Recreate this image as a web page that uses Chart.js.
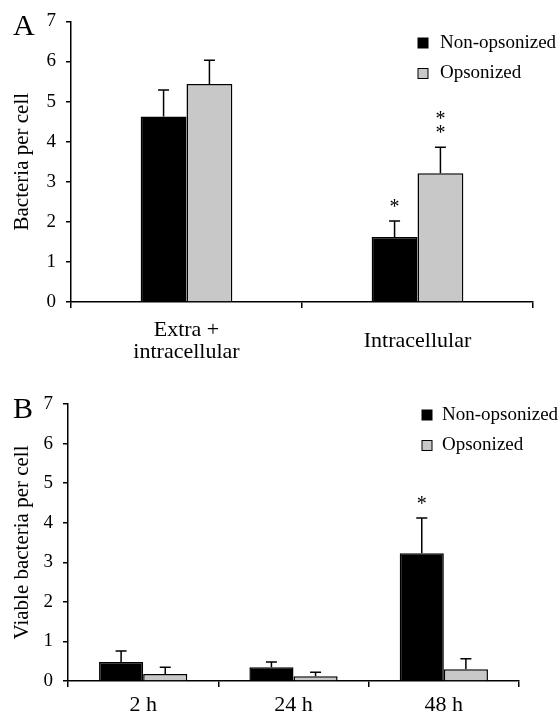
<!DOCTYPE html>
<html>
<head>
<meta charset="utf-8">
<script src="https://cdn.jsdelivr.net/npm/chart.js@4"></script>
<style>
  body { margin: 0; background: #fff; }
  #wrap { position: relative; width: 559px; height: 719px; }
  .panel { position: absolute; left: 0; width: 559px; }
</style>
</head>
<body>
<div id="wrap">
  <div class="panel" style="top:0;height:372px"><canvas id="chartA"></canvas></div>
  <div class="panel" style="top:372px;height:347px"><canvas id="chartB"></canvas></div>
</div>
<script>
// panel A data
const labelsA = [["Extra +", "intracellular"], "Intracellular"];
const nonOpsA = [4.63, 1.62];
const nonOpsErrA = [0.66, 0.4];
const nonOpsStarsA = [0, 1];
const opsA = [5.44, 3.21];
const opsErrA = [0.59, 0.65];
const opsStarsA = [0, 2];

// panel B data
const labelsB = ["2 h", "24 h", "48 h"];
const nonOpsB = [0.48, 0.35, 3.23];
const nonOpsErrB = [0.28, 0.13, 0.89];
const nonOpsStarsB = [0, 0, 1];
const opsB = [0.18, 0.12, 0.3];
const opsErrB = [0.17, 0.1, 0.26];
const opsStarsB = [0, 0, 0];

const yTicks = [0, 1, 2, 3, 4, 5, 6, 7];

const serif = "'Liberation Serif', 'Times New Roman', serif";

// error bars (upper only) + significance stars
const errorBars = {
  id: "errorBars",
  afterDatasetsDraw(chart) {
    const ctx = chart.ctx;
    const yScale = chart.scales.y;
    ctx.save();
    chart.data.datasets.forEach((ds, i) => {
      const meta = chart.getDatasetMeta(i);
      meta.data.forEach((bar, j) => {
        const top = yScale.getPixelForValue(ds.data[j] + ds.errors[j]);
        ctx.strokeStyle = "#000";
        ctx.lineWidth = 1.5;
        ctx.beginPath();
        ctx.moveTo(bar.x, bar.y);
        ctx.lineTo(bar.x, top);
        ctx.moveTo(bar.x - 5.5, top);
        ctx.lineTo(bar.x + 5.5, top);
        ctx.stroke();
        ctx.fillStyle = "#000";
        ctx.font = "20px " + serif;
        ctx.textAlign = "center";
        ctx.textBaseline = "alphabetic";
        for (let k = 0; k < ds.stars[j]; k++) {
          ctx.fillText("*", bar.x, top - 19 - k * 14 + 11);
        }
      });
    });
    ctx.restore();
  },
};

// legend box drawn inside the plot
const boxLegend = {
  id: "boxLegend",
  afterDraw(chart, args, opts) {
    const ctx = chart.ctx;
    ctx.save();
    ctx.font = "19px " + serif;
    ctx.textBaseline = "middle";
    ctx.textAlign = "left";
    chart.data.datasets.forEach((ds, i) => {
      const cy = opts.y + i * opts.gap;
      ctx.fillStyle = ds.backgroundColor;
      ctx.fillRect(opts.x, cy - 5, 10, 10);
      ctx.strokeStyle = "#000";
      ctx.lineWidth = 1;
      ctx.strokeRect(opts.x, cy - 5, 10, 10);
      ctx.fillStyle = "#000";
      ctx.fillText(ds.label, opts.textX, cy);
    });
    // panel letter
    ctx.font = "30px " + serif;
    ctx.textBaseline = "alphabetic";
    ctx.fillText(opts.letter, 13, opts.letterY);
    ctx.restore();
  },
};

function makeChart(id, labels, sets, cfg) {
  const ctx = document.getElementById(id).getContext("2d");
  return new Chart(ctx, {
    type: "bar",
    data: {
      labels: labels,
      datasets: [
        {
          label: "Non-opsonized",
          data: sets[0],
          errors: sets[1],
          stars: sets[2],
          backgroundColor: "#000000",
          borderColor: "#000000",
          borderWidth: 1.5,
          barPercentage: 1,
          categoryPercentage: cfg.cat,
        },
        {
          label: "Opsonized",
          data: sets[3],
          errors: sets[4],
          stars: sets[5],
          backgroundColor: "#c8c8c8",
          borderColor: "#000000",
          borderWidth: 1.5,
          barPercentage: 1,
          categoryPercentage: cfg.cat,
        },
      ],
    },
    options: {
      responsive: true,
      maintainAspectRatio: false,
      animation: false,
      layout: { padding: { top: cfg.top, right: cfg.right, left: 0, bottom: 0 } },
      plugins: {
        legend: { display: false },
        tooltip: { enabled: false },
        boxLegend: { x: cfg.legX, textX: cfg.legTextX, y: 43, gap: 30.5, letter: cfg.letter, letterY: cfg.letterY },
      },
      scales: {
        x: {
          grid: { display: true, offset: true, drawOnChartArea: false, tickLength: 6, color: "#000", lineWidth: 1.5 },
          border: { display: true, color: "#000", width: 1.5 },
          ticks: { color: "#000", font: { family: serif, size: 22, lineHeight: 1.0 }, padding: cfg.xPad, crossAlign: "center", maxRotation: 0, autoSkip: false },
          afterFit: (scale) => { scale.height = cfg.xHeight; },
        },
        y: {
          min: 0,
          max: 7,
          afterBuildTicks: (scale) => { scale.ticks = yTicks.map((v) => ({ value: v })); },
          grid: { display: true, drawOnChartArea: false, tickLength: 5, color: "#000", lineWidth: 1.5 },
          border: { display: true, color: "#000", width: 1.5 },
          ticks: { color: "#000", font: { family: serif, size: 19 }, padding: 10 },
          title: { display: true, text: cfg.yTitle, color: "#000", font: { family: serif, size: 21 }, padding: { top: 10, bottom: 0 } },
          afterFit: (scale) => { scale.width = cfg.yWidth; },
        },
      },
    },
    plugins: [errorBars, boxLegend],
  });
}

makeChart("chartA", labelsA, [nonOpsA, nonOpsErrA, nonOpsStarsA, opsA, opsErrA, opsStarsA], {
  cat: 0.397, top: 21, right: 26, xHeight: 70, yWidth: 71, xPad: 22,
  yTitle: "Bacteria per cell", legX: 418, legTextX: 440, letter: "A", letterY: 35,
});

makeChart("chartB", labelsB, [nonOpsB, nonOpsErrB, nonOpsStarsB, opsB, opsErrB, opsStarsB], {
  cat: 0.587, top: 32, right: 40, xHeight: 38, yWidth: 68, xPad: 18,
  yTitle: "Viable bacteria per cell", legX: 422, legTextX: 442, letter: "B", letterY: 46,
});
</script>
</body>
</html>
